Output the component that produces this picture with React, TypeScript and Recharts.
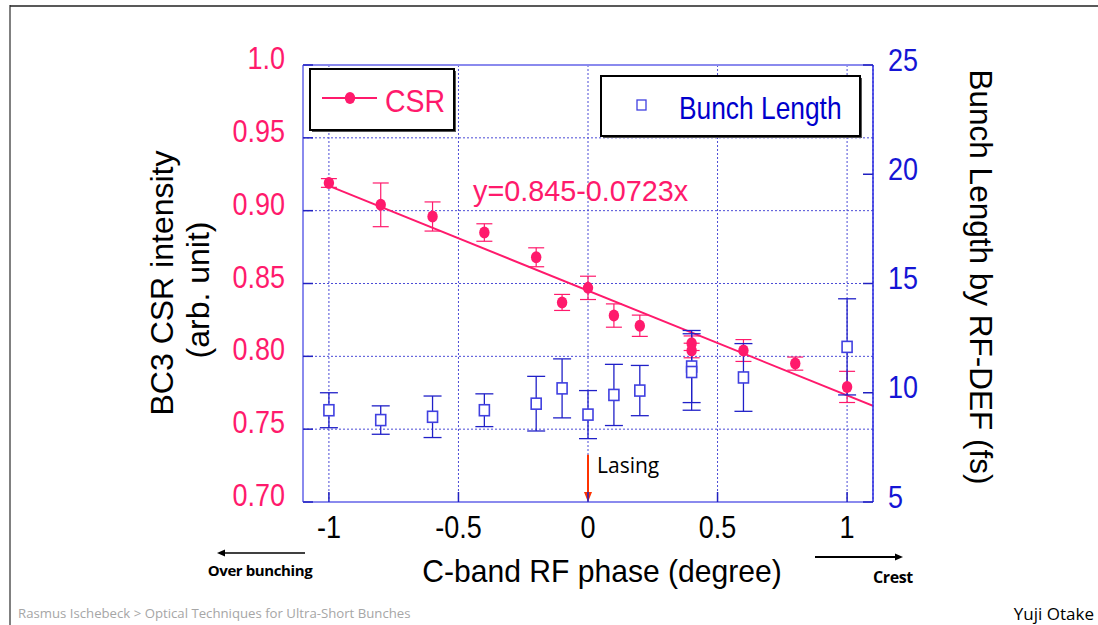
import React from 'react'
import {
  ComposedChart, Scatter, Line, ErrorBar,
  XAxis, YAxis, CartesianGrid, ReferenceLine,
} from 'recharts'

const PINK = '#ff1a6c'
const BLUE = '#1515d5'
const FRAME = '#8a8aee'
const GRID = '#4b4bd6'
const TICK = '#2020c0'
const SANS = '"Liberation Sans", Arial, sans-serif'
const SLIDE = '"Open Sans", "Noto Sans", sans-serif'

// CSR intensity, left axis
const csrPhase = [-1, -0.8, -0.6, -0.4, -0.2, -0.1, 0, 0.1, 0.2, 0.4, 0.4, 0.6, 0.8, 1]
const csrValue = [0.919, 0.904, 0.896, 0.885, 0.868, 0.837, 0.847, 0.828, 0.821, 0.809, 0.804, 0.804, 0.795, 0.779]
const csrError = [0.003, 0.015, 0.010, 0.006, 0.0065, 0.0055, 0.008, 0.008, 0.0073, 0.005, 0.005, 0.0075, 0.0045, 0.0107]

// linear fit y=0.845-0.0723x, end points
const fitPhase = [-1, 1.1]
const fitValue = [0.917, 0.766]

// bunch length (fs), right axis
const blPhase = [-1, -0.8, -0.6, -0.4, -0.2, -0.1, 0, 0.1, 0.2, 0.4, 0.4, 0.6, 1]
const blValue = [9.2, 8.75, 8.9, 9.2, 9.5, 10.2, 9.0, 9.9, 10.1, 11.2, 10.95, 10.7, 12.1]
const blError = [0.8, 0.65, 0.95, 0.75, 1.25, 1.35, 1.1, 1.4, 1.15, 1.65, 1.75, 1.55, 2.2]

const phaseTicks = [-1, -0.5, 0, 0.5, 1]
const phaseTickLabels = ['-1', '-0.5', '0', '0.5', '1']
const csrTicks = [0.7, 0.75, 0.8, 0.85, 0.9, 0.95, 1.0]
const csrTickLabels = ['0.70', '0.75', '0.80', '0.85', '0.90', '0.95', '1.0']
const blTicks = [5, 10, 15, 20, 25]
const blTickLabels = ['5', '10', '15', '20', '25']

const csrData = csrPhase.map((x, i) => ({ x, y: csrValue[i], err: csrError[i] }))
const blData = blPhase.map((x, i) => ({ x, y: blValue[i], err: blError[i] }))
const fitData = fitPhase.map((x, i) => ({ x, y: fitValue[i] }))

// the slide squeezed its text horizontally, so draw it narrow
const Sq = ({ x, y, sx, children, ...rest }: any) => (
  <text transform={`translate(${x},${y}) scale(${sx},1)`} fontFamily={SANS} {...rest}>
    {children}
  </text>
)

const CsrDot = (p: any) => <ellipse cx={p.cx} cy={p.cy} rx={5.2} ry={6} fill={PINK} />
const BlBox = (p: any) => (
  <rect x={p.cx - 5} y={p.cy - 5.5} width={10} height={11} fill="#fff" stroke="#4040e0" strokeWidth={1.6} />
)

const LeftTick = ({ x, y, index }: any) => (
  <g>
    <line x1={x} x2={x + 10} y1={y} y2={y} stroke={TICK} strokeWidth={1.5} />
    <Sq x={x - 18} y={y + 4} sx={0.87} textAnchor="end" fontSize={31} fill={PINK}>
      {csrTickLabels[index]}
    </Sq>
  </g>
)

const RightTick = ({ x, y, index }: any) => (
  <g>
    <line x1={x} x2={x - 10} y1={y} y2={y} stroke={TICK} strokeWidth={1.5} />
    <Sq x={x + 15} y={y + 5.5} sx={0.87} textAnchor="start" fontSize={31} fill={BLUE}>
      {blTickLabels[index]}
    </Sq>
  </g>
)

const BottomTick = ({ x, y, index }: any) => (
  <g>
    <line x1={x} x2={x} y1={y} y2={y - 10} stroke={TICK} strokeWidth={1.5} />
    <Sq x={x} y={y + 36} sx={0.87} textAnchor="middle" fontSize={31} fill="#000">
      {phaseTickLabels[index]}
    </Sq>
  </g>
)

const TopTick = ({ x, y }: any) => (
  <line x1={x} x2={x} y1={y} y2={y + 8} stroke={TICK} strokeWidth={1.5} />
)

const LasingArrow = (p: any) => {
  const { x1, y1, x2, y2 } = p
  return (
    <g>
      <line x1={x1} y1={y1} x2={x2} y2={y2 - 8} stroke="#ff3300" strokeWidth={2} />
      <polygon points={`${x2},${y2} ${x2 - 4},${y2 - 10} ${x2 + 4},${y2 - 10}`} fill="#ff3300" />
    </g>
  )
}

export default function App() {
  return (
    <div style={{ position: 'absolute', left: 0, top: 0, width: 1098, height: 625, background: '#fff', overflow: 'hidden' }}>
      <ComposedChart width={1098} height={625} margin={{ top: 65, right: 125, bottom: 83, left: 203 }}>
        <CartesianGrid yAxisId="left" stroke={GRID} strokeDasharray="2 2" strokeWidth={1} />
        <XAxis
          type="number"
          dataKey="x"
          domain={[-1.1, 1.1]}
          ticks={phaseTicks}
          allowDataOverflow
          height={40}
          tickSize={0}
          tickMargin={0}
          tickLine={false}
          axisLine={{ stroke: FRAME, strokeWidth: 2 }}
          tick={<BottomTick />}
        />
        <XAxis
          xAxisId="top"
          orientation="top"
          type="number"
          dataKey="x"
          domain={[-1.1, 1.1]}
          ticks={phaseTicks}
          allowDataOverflow
          height={0}
          tickSize={0}
          tickMargin={0}
          tickLine={false}
          axisLine={false}
          tick={<TopTick />}
        />
        <YAxis
          yAxisId="left"
          type="number"
          dataKey="y"
          domain={[0.7, 1.0]}
          ticks={csrTicks}
          allowDataOverflow
          width={100}
          tickSize={0}
          tickMargin={0}
          tickLine={false}
          axisLine={{ stroke: FRAME, strokeWidth: 2 }}
          tick={<LeftTick />}
        />
        <YAxis
          yAxisId="right"
          orientation="right"
          type="number"
          dataKey="y"
          domain={[5, 25]}
          ticks={blTicks}
          allowDataOverflow
          width={100}
          tickSize={0}
          tickMargin={0}
          tickLine={false}
          axisLine={{ stroke: '#2a2ae0', strokeWidth: 1.5 }}
          tick={<RightTick />}
        />
        <ReferenceLine yAxisId="left" y={1.0} stroke={FRAME} strokeWidth={2} />
        <ReferenceLine
          yAxisId="left"
          segment={[{ x: 0, y: 0.7325 }, { x: 0, y: 0.7 }]}
          shape={<LasingArrow />}
        />
        <Scatter yAxisId="left" data={csrData} shape={<CsrDot />} isAnimationActive={false}>
          <ErrorBar dataKey="err" direction="y" width={8} stroke={PINK} strokeWidth={1.2} />
        </Scatter>
        <Line
          yAxisId="left"
          data={fitData}
          dataKey="y"
          type="linear"
          stroke={PINK}
          strokeWidth={2}
          dot={false}
          activeDot={false}
          isAnimationActive={false}
        />
        <Scatter yAxisId="right" data={blData} shape={<BlBox />} isAnimationActive={false}>
          <ErrorBar dataKey="err" direction="y" width={9} stroke="#2020c8" strokeWidth={1.3} />
        </Scatter>
      </ComposedChart>

      <svg
        width={1098}
        height={625}
        style={{ position: 'absolute', left: 0, top: 0, pointerEvents: 'none' }}
      >
        {/* slide frame */}
        <line x1={10} y1={5} x2={10} y2={625} stroke="#808080" strokeWidth={2} />
        <line x1={10} y1={6} x2={1098} y2={6} stroke="#222" strokeWidth={1.5} />

        {/* legends */}
        <rect x={312} y={71} width={144} height={61} fill="#555" />
        <rect x={310} y={69} width={144} height={61} fill="#fff" stroke="#000" strokeWidth={2} />
        <line x1={322} y1={98} x2={377} y2={98} stroke={PINK} strokeWidth={2} />
        <ellipse cx={350} cy={98} rx={5.2} ry={6} fill={PINK} />
        <Sq x={385} y={112} sx={0.92} fontSize={31} fill={PINK}>CSR</Sq>

        <rect x={603} y={78} width={259} height={60} fill="#555" />
        <rect x={601} y={76} width={259} height={60} fill="#fff" stroke="#000" strokeWidth={2} />
        <rect x={637} y={100} width={9} height={10} fill="#fff" stroke="#4040e0" strokeWidth={1.3} />
        <Sq x={679} y={119} sx={0.85} fontSize={31} fill="#0000cc">Bunch Length</Sq>

        {/* fit equation */}
        <Sq x={473} y={201} sx={0.96} fontSize={30} fill={PINK}>y=0.845-0.0723x</Sq>

        {/* axis titles */}
        <text transform="translate(173,283) rotate(-90)" textAnchor="middle" fontSize={32} fontFamily={SANS} fill="#000">
          BC3 CSR intensity
        </text>
        <text transform="translate(209,290) rotate(-90)" textAnchor="middle" fontSize={32} fontFamily={SANS} fill="#000">
          (arb. unit)
        </text>
        <text transform="translate(970,277) rotate(90)" textAnchor="middle" fontSize={31.5} fontFamily={SANS} fill="#000">
          Bunch Length by RF-DEF (fs)
        </text>
        <Sq x={602} y={581.5} sx={0.94} textAnchor="middle" fontSize={32} fill="#000">
          C-band RF phase (degree)
        </Sq>

        {/* annotations */}
        <text x={597} y={473} fontSize={21} fontFamily={SLIDE} fill="#000">Lasing</text>
        <line x1={222} y1={553} x2={305} y2={553} stroke="#000" strokeWidth={1.5} />
        <polygon points="217,553 225,549.5 225,556.5" fill="#000" />
        <text x={260} y={576} textAnchor="middle" fontSize={15} fontWeight="bold" letterSpacing={-0.4} fontFamily={SLIDE} fill="#000">
          Over bunching
        </text>
        <line x1={815} y1={557} x2={897} y2={557} stroke="#000" strokeWidth={2} />
        <polygon points="903,557 895,553.5 895,560.5" fill="#000" />
        <text x={893} y={583} textAnchor="middle" fontSize={16} fontWeight="bold" letterSpacing={-0.4} fontFamily={SLIDE} fill="#000">
          Crest
        </text>

        {/* footer */}
        <text x={18} y={618} fontSize={13.2} fontFamily={SLIDE} fill="#a6a6a6">
          Rasmus Ischebeck &gt; Optical Techniques for Ultra-Short Bunches
        </text>
        <text x={1094} y={620} textAnchor="end" fontSize={17} fontFamily={SLIDE} fill="#000">Yuji Otake</text>
      </svg>
    </div>
  )
}
